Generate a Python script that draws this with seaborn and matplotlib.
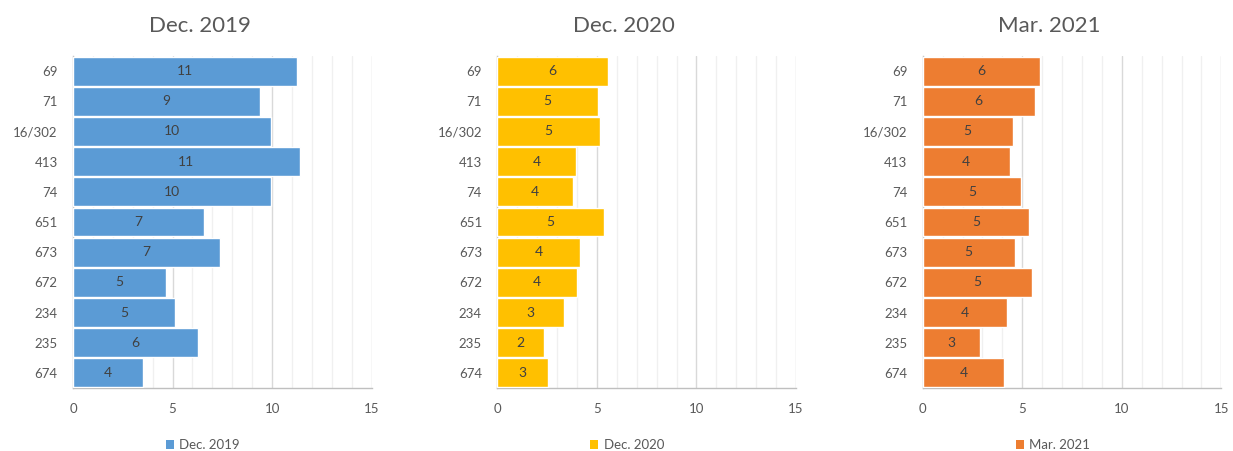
import matplotlib
matplotlib.use("Agg")
import matplotlib.pyplot as plt
from matplotlib.patches import Patch
from matplotlib.ticker import MultipleLocator
import seaborn as sns
import pandas as pd

categories = ["69", "71", "16/302", "413", "74", "651", "673", "672", "234", "235", "674"]
dec_2019 = [11.26, 9.40, 9.93, 11.39, 9.93, 6.60, 7.39, 4.67, 5.14, 6.27, 3.52]
dec_2020 = [5.54, 5.07, 5.14, 3.95, 3.81, 5.34, 4.15, 4.01, 3.35, 2.36, 2.56]
mar_2021 = [5.89, 5.62, 4.52, 4.37, 4.95, 5.35, 4.62, 5.49, 4.21, 2.89, 4.10]
series_names = ["Dec. 2019", "Dec. 2020", "Mar. 2021"]
colors = ["#5B9BD5", "#FFC000", "#ED7D31"]
x_ticks = [0, 5, 10, 15]

sns.set_theme(style="white")
plt.rcParams["font.family"] = ["Lato", "DejaVu Sans"]

fig = plt.figure(figsize=(12.33, 4.51), dpi=100)
lefts = [73 / 1233, 497.3 / 1233, 922.7 / 1233]
width = 298.7 / 1233
bottom = 1 - 388 / 451
height = (388 - 56) / 451

for i, (vals, name, col) in enumerate(zip([dec_2019, dec_2020, mar_2021], series_names, colors)):
    ax = fig.add_axes([lefts[i], bottom, width, height])
    df = pd.DataFrame({"cat": categories, "val": vals})
    sns.barplot(data=df, x="val", y="cat", order=categories, orient="h",
                color=col, saturation=1, width=0.96, edgecolor="white",
                linewidth=1, ax=ax, zorder=3)
    ax.set_xlim(0, 15)
    ax.set_xticks(x_ticks)
    ax.xaxis.set_minor_locator(MultipleLocator(1))
    ax.grid(which="major", axis="x", color="#D9D9D9", linewidth=1, zorder=0)
    ax.grid(which="minor", axis="x", color="#F0F0F0", linewidth=1, zorder=0)
    ax.grid(axis="y", visible=False)
    ax.set_axisbelow(True)
    ax.set_xlabel("")
    ax.set_ylabel("")
    for s in ["top", "right"]:
        ax.spines[s].set_visible(False)
    for s in ["left", "bottom"]:
        ax.spines[s].set_color("#BFBFBF")
        ax.spines[s].set_linewidth(1)
    ax.tick_params(axis="both", which="both", length=0, colors="#595959", labelsize=9.5)
    ax.tick_params(axis="x", pad=11)
    ax.tick_params(axis="y", pad=11)
    labels = [f"{int(v + 0.5)}" for v in vals]
    ax.bar_label(ax.containers[0], labels=labels, label_type="center",
                 color="#404040", fontsize=10)
    ax.set_title(name, fontsize=16, color="#595959", pad=17, x=0.425)
    ax.legend(handles=[Patch(facecolor=col, edgecolor="none")], labels=[name],
              loc="center", bbox_to_anchor=(0.435, -0.172), frameon=False,
              handlelength=0.6, handleheight=0.6, handletextpad=0.4,
              fontsize=9.5, labelcolor="#595959")

fig.savefig("out.png", dpi=100)
